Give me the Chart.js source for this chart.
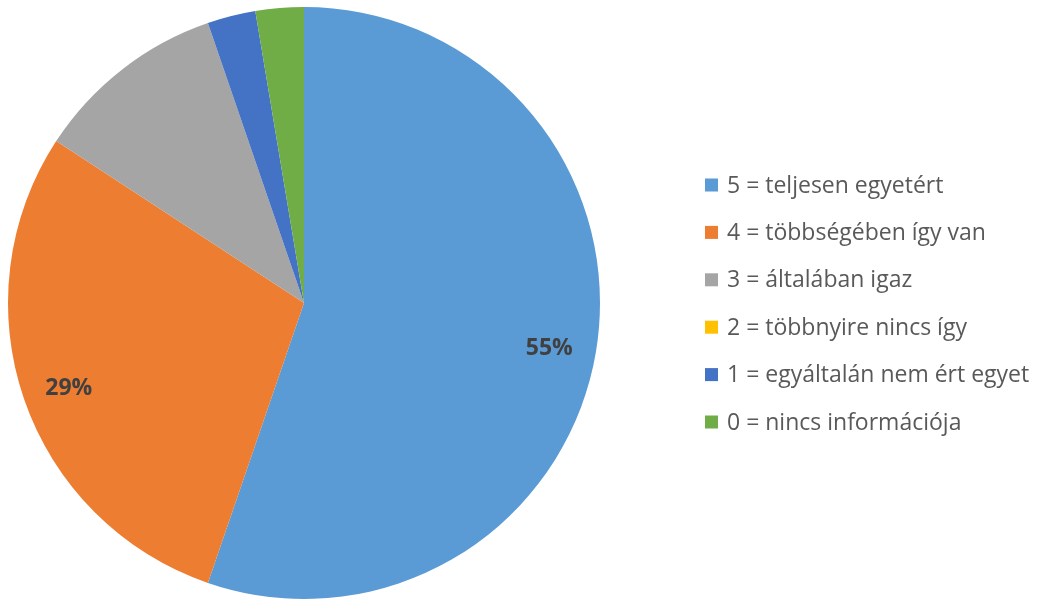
<!DOCTYPE html>
<html><head><meta charset="utf-8">
<script src="https://cdn.jsdelivr.net/npm/chart.js@4"></script>
<style>html,body{margin:0;padding:0;background:#fff}#w{width:1043px;height:599px}</style>
</head><body><div id="w"><canvas id="c"></canvas></div>
<script>
const categories = ["5 = teljesen egyetért","4 = többségében így van","3 = általában igaz","2 = többnyire nincs így","1 = egyáltalán nem ért egyet","0 = nincs információja"];
const values = [21, 11, 4, 0, 1, 1];
const colors = ["#5B9BD5","#ED7D31","#A5A5A5","#FFC000","#4472C4","#70AD47"];
const shownLabels = [true, true, false, false, false, false];

const labelPlugin = {
  id: 'pctLabels',
  afterDatasetsDraw(chart) {
    const ctx = chart.ctx;
    const meta = chart.getDatasetMeta(0);
    const total = values.reduce((a,b)=>a+b,0);
    ctx.save();
    ctx.font = 'bold 23px "Open Sans", sans-serif';
    ctx.fillStyle = '#404040';
    ctx.textAlign = 'center';
    ctx.textBaseline = 'middle';
    meta.data.forEach((arc, i) => {
      if (!shownLabels[i]) return;
      const mid = (arc.startAngle + arc.endAngle) / 2;
      const r = arc.outerRadius * 0.84;
      const x = arc.x + Math.cos(mid) * r;
      const y = arc.y + Math.sin(mid) * r + 5;
      ctx.fillText(Math.round(values[i] / total * 100) + '%', x, y);
    });
    ctx.restore();
  }
};

const legendPlugin = {
  id: 'sideLegend',
  afterDraw(chart) {
    const ctx = chart.ctx;
    ctx.save();
    ctx.font = '23px "Open Sans", sans-serif';
    ctx.textBaseline = 'middle';
    ctx.textAlign = 'left';
    const x0 = 705, y0 = 185, step = 47.4, box = 13;
    categories.forEach((c, i) => {
      const y = y0 + i * step;
      ctx.fillStyle = colors[i];
      ctx.fillRect(x0, y - box/2, box, box);
      ctx.fillStyle = '#595959';
      ctx.fillText(c, x0 + box + 9, y + 1);
    });
    ctx.restore();
  }
};

new Chart(document.getElementById('c'), {
  type: 'pie',
  data: { labels: categories, datasets: [{ data: values, backgroundColor: colors, borderWidth: 0 }] },
  options: {
    responsive: true, maintainAspectRatio: false, animation: false,
    layout: { padding: { left: 8, right: 443, top: 7, bottom: 0 } },
    plugins: { legend: { display: false }, tooltip: { enabled: false } }
  },
  plugins: [labelPlugin, legendPlugin]
});
</script></body></html>
